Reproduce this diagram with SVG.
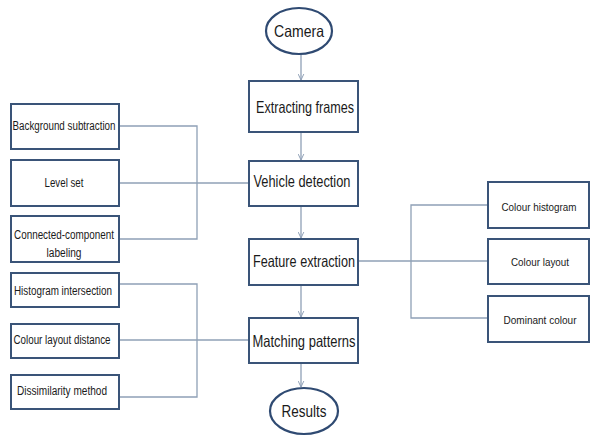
<svg xmlns="http://www.w3.org/2000/svg" width="592" height="436" viewBox="0 0 592 436">
<style>
.box{fill:#ffffff;stroke:#3a5478;stroke-width:2}
.ell{fill:#ffffff;stroke:#2f4a72;stroke-width:2.2}
.con{fill:none;stroke:#8fa0b6;stroke-width:1.3}
.big{font-family:"Liberation Sans",Arial,sans-serif;font-size:16.5px;fill:#1a1a1a;text-anchor:middle;dominant-baseline:central}
.sm{font-family:"Liberation Sans",Arial,sans-serif;font-size:12.5px;fill:#1a1a1a;text-anchor:middle;dominant-baseline:central}
.rs{font-size:11.5px}
</style>
<defs>
<marker id="arr" viewBox="0 0 10 10" refX="9.5" refY="5" markerWidth="7" markerHeight="7" markerUnits="userSpaceOnUse" orient="auto">
<path d="M1,1 L9.5,5 L1,9" fill="none" stroke="#8fa0b6" stroke-width="1.4"/>
</marker>
</defs>
<rect width="592" height="436" fill="#ffffff"/>
<g id="connectors">
<line class="con" x1="301" y1="54" x2="301" y2="80" marker-end="url(#arr)"/>
<line class="con" x1="301" y1="133" x2="301" y2="160" marker-end="url(#arr)"/>
<line class="con" x1="301" y1="207" x2="301" y2="238" marker-end="url(#arr)"/>
<line class="con" x1="301" y1="286" x2="301" y2="317" marker-end="url(#arr)"/>
<line class="con" x1="301" y1="364" x2="301" y2="387" marker-end="url(#arr)"/>
<polyline class="con" points="119,126 197,126 197,239 119,239"/>
<line class="con" x1="119" y1="183" x2="249" y2="183"/>
<polyline class="con" points="119,284 197,284 197,397 119,397"/>
<line class="con" x1="119" y1="340" x2="249" y2="340"/>
<polyline class="con" points="488,205 411,205 411,318 488,318"/>
<line class="con" x1="358" y1="261" x2="488" y2="261"/>
</g>
<g id="camera"><ellipse class="ell" cx="299" cy="31" rx="33" ry="23"/><text class="big" x="299" y="31" textLength="50" lengthAdjust="spacingAndGlyphs">Camera</text></g>
<g id="extracting-frames"><rect class="box" x="249" y="81" width="109" height="51"/><text class="big" x="305" y="107" textLength="98" lengthAdjust="spacingAndGlyphs">Extracting frames</text></g>
<g id="vehicle-detection"><rect class="box" x="249" y="161" width="109" height="45"/><text class="big" x="302" y="181" textLength="97" lengthAdjust="spacingAndGlyphs">Vehicle detection</text></g>
<g id="feature-extraction"><rect class="box" x="249" y="239" width="109" height="46"/><text class="big" x="304" y="261" textLength="102" lengthAdjust="spacingAndGlyphs">Feature extraction</text></g>
<g id="matching-patterns"><rect class="box" x="249" y="318" width="109" height="45"/><text class="big" x="304" y="341" textLength="103" lengthAdjust="spacingAndGlyphs">Matching patterns</text></g>
<g id="results"><ellipse class="ell" cx="304" cy="411" rx="34" ry="23"/><text class="big" x="304" y="411" textLength="45" lengthAdjust="spacingAndGlyphs">Results</text></g>
<g id="background-subtraction"><rect class="box" x="11" y="104" width="108" height="45"/><text class="sm" x="64" y="126" textLength="103" lengthAdjust="spacingAndGlyphs">Background subtraction</text></g>
<g id="level-set"><rect class="box" x="11" y="160" width="108" height="46"/><text class="sm" x="64" y="183" textLength="39" lengthAdjust="spacingAndGlyphs">Level set</text></g>
<g id="connected-component"><rect class="box" x="11" y="216" width="108" height="46"/><text class="sm" x="64" y="235" textLength="100" lengthAdjust="spacingAndGlyphs">Connected-component</text><text class="sm" x="64" y="253" textLength="35" lengthAdjust="spacingAndGlyphs">labeling</text></g>
<g id="histogram-intersection"><rect class="box" x="11" y="273" width="108" height="34"/><text class="sm" x="63" y="291" textLength="98" lengthAdjust="spacingAndGlyphs">Histogram intersection</text></g>
<g id="colour-layout-distance"><rect class="box" x="11" y="324" width="108" height="34"/><text class="sm" x="62" y="340" textLength="97" lengthAdjust="spacingAndGlyphs">Colour layout distance</text></g>
<g id="dissimilarity-method"><rect class="box" x="11" y="375" width="108" height="34"/><text class="sm" x="62" y="391" textLength="90" lengthAdjust="spacingAndGlyphs">Dissimilarity method</text></g>
<g id="colour-histogram"><rect class="box" x="488" y="182" width="101" height="46"/><text class="sm rs" x="539" y="207" textLength="75" lengthAdjust="spacingAndGlyphs">Colour histogram</text></g>
<g id="colour-layout"><rect class="box" x="488" y="239" width="101" height="45"/><text class="sm rs" x="540" y="262" textLength="58" lengthAdjust="spacingAndGlyphs">Colour layout</text></g>
<g id="dominant-colour"><rect class="box" x="488" y="296" width="101" height="46"/><text class="sm rs" x="540" y="320" textLength="73" lengthAdjust="spacingAndGlyphs">Dominant colour</text></g>
</svg>
